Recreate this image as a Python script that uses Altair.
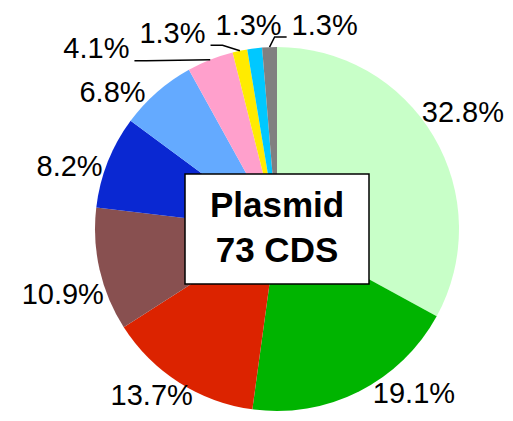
import math
import altair as alt
import pandas as pd

# ---------------- data ----------------
categories = ["Group 1", "Group 2", "Group 3", "Group 4", "Group 5",
              "Group 6", "Group 7", "Group 8", "Group 9", "Group 10"]
shares = [32.8, 19.1, 13.7, 10.9, 8.2, 6.8, 4.1, 1.3, 1.3, 1.3]
colors = ["#C8FFC8", "#00B400", "#DC2300", "#885050", "#0A28D2",
          "#64AAFF", "#FFA0CC", "#FFEB00", "#00C8FF", "#808080"]
title_lines = ["Plasmid", "73 CDS"]

# ---------------- layout / style ----------------
W, H = 497, 405          # plot area (page minus margins)
CX, CY = 269, 221        # pie centre inside the plot area
R = 182                  # pie radius
FS = 29                  # label font size
GAP = 10                 # min horizontal gap between crowded labels
CROWD_PAD = 16           # crowded labels sit this far outside the pie
MOVE_LIMIT = 30          # labels moved further than this get a leader line
ROT = math.radians(-5)   # label anchor rotation (Excel-like placement)
BOX_HW, BOX_HH = 92, 55  # half size of the centre title box
TITLE_FS, TITLE_LH = 35, 45
FONT = "Liberation Sans"

EM = {d: 0.556 for d in "0123456789"}
EM.update({".": 0.278, "%": 0.889})


def text_w(s):
    return FS * sum(EM.get(ch, 0.556) for ch in s)


TH = 0.716 * FS  # digit height

labels = [f"{v:.1f}%" for v in shares]
total = sum(shares)


def anchor(a, w):
    s, c = math.sin(a), -math.cos(a)
    return (R * s + math.copysign(w / 2, s), R * c + math.copysign(TH / 2, c))


items = []
cum = 0.0
for i, (v, lab) in enumerate(zip(shares, labels)):
    a = 2 * math.pi * (cum + v / 2) / total
    cum += v
    w = text_w(lab)
    bx, by = anchor(a + ROT, w)
    bx0, by0 = anchor(a, w)
    items.append(dict(i=i, text=lab, px=R * math.sin(a), py=-R * math.cos(a), w=w,
                      bx=bx, by=by, bx0=bx0, by0=by0, x=bx, y=by, crowd=False))


def overlaps(p, q):
    return (abs(p["x"] - q["x"]) < (p["w"] + q["w"]) / 2 + GAP
            and abs(p["y"] - q["y"]) < TH + 4)


def crowd_y(t):
    lo, hi = t["x"] - t["w"] / 2, t["x"] + t["w"] / 2
    xc = 0.0 if lo <= 0 <= hi else min(abs(lo), abs(hi))
    ro = R + CROWD_PAD
    if xc >= ro:
        return t["by0"]
    yc = -math.sqrt(ro ** 2 - xc ** 2) - TH / 2
    return min(t["by0"], yc) if t["by0"] < 0 else t["by0"]


def layout(cl):
    cl_sorted = sorted(cl, key=lambda t: t["bx0"])
    span = sum(t["w"] for t in cl_sorted) + GAP * (len(cl_sorted) - 1)
    mean = sum(t["bx0"] for t in cl_sorted) / len(cl_sorted)
    left = mean - span / 2
    for t in cl_sorted:
        t["crowd"] = True
        t["x"] = left + t["w"] / 2
        t["y"] = crowd_y(t)
        left += t["w"] + GAP


clusters = [[t] for t in items]
merged = True
while merged:
    merged = False
    for j in range(len(clusters) - 1):
        A, B = clusters[j], clusters[j + 1]
        if any(overlaps(p, q) for p in A for q in B):
            clusters[j] = A + B
            del clusters[j + 1]
            layout(clusters[j])
            merged = True
            break

# keep labels inside the drawing area
for t in items:
    t["x"] = max(-CX + t["w"] / 2 + 1, min(W - CX - t["w"] / 2 - 1, t["x"]))
    t["y"] = max(-CY + FS / 2 + 3, min(H - CY - FS / 2 - 3, t["y"]))

label_df = pd.DataFrame([{"text": t["text"], "x": t["x"], "y": t["y"]} for t in items])

leader_rows = []
for t in items:
    ref_x = t["bx0"] if t["crowd"] else t["bx"]
    if abs(t["x"] - ref_x) > MOVE_LIMIT:
        side = 1 if t["x"] < t["px"] else -1
        lx = t["x"] + side * (t["w"] / 2 + 5)
        ly = t["y"] + TH / 2 + 1
        ex = lx + side * 12
        for k, (xx, yy) in enumerate([(lx, ly), (ex, ly), (t["px"], t["py"])]):
            leader_rows.append({"id": t["i"], "k": k, "x": xx, "y": yy})
leader_df = pd.DataFrame(leader_rows, columns=["id", "k", "x", "y"])

pie_df = pd.DataFrame({"cat": categories, "value": shares,
                       "idx": list(range(len(shares))),
                       "cx": [0] * len(shares), "cy": [0] * len(shares)})

box_df = pd.DataFrame({"x": [-BOX_HW], "x2": [BOX_HW], "y": [-BOX_HH], "y2": [BOX_HH]})
n_lines = len(title_lines)
title_df = pd.DataFrame({"t": title_lines,
                         "x": [0] * n_lines,
                         "y": [(k - (n_lines - 1) / 2) * TITLE_LH - 1 for k in range(n_lines)]})

xs = alt.Scale(domain=[-CX, W - CX], range=[0, W], nice=False, zero=False)
ys = alt.Scale(domain=[-CY, H - CY], range=[0, H], nice=False, zero=False)

arcs = alt.Chart(pie_df).mark_arc(outerRadius=R).encode(
    x=alt.X("cx:Q", scale=xs, axis=None),
    y=alt.Y("cy:Q", scale=ys, axis=None),
    theta=alt.Theta("value:Q", stack=True),
    color=alt.Color("cat:N", scale=alt.Scale(domain=categories, range=colors), legend=None),
    order=alt.Order("idx:Q"),
)

leaders = alt.Chart(leader_df).mark_line(color="#000000", strokeWidth=1.5).encode(
    x=alt.X("x:Q", scale=xs, axis=None),
    y=alt.Y("y:Q", scale=ys, axis=None),
    detail="id:N",
    order="k:Q",
)

texts = alt.Chart(label_df).mark_text(font=FONT, fontSize=FS, color="#000000",
                                      align="center", baseline="middle").encode(
    x=alt.X("x:Q", scale=xs, axis=None),
    y=alt.Y("y:Q", scale=ys, axis=None),
    text="text:N",
)

box = alt.Chart(box_df).mark_rect(fill="#FFFFFF", stroke="#000000", strokeWidth=1.5).encode(
    x=alt.X("x:Q", scale=xs, axis=None), x2="x2:Q",
    y=alt.Y("y:Q", scale=ys, axis=None), y2="y2:Q",
)

title = alt.Chart(title_df).mark_text(font=FONT, fontSize=TITLE_FS, fontWeight="bold",
                                      color="#000000", align="center",
                                      baseline="middle").encode(
    x=alt.X("x:Q", scale=xs, axis=None),
    y=alt.Y("y:Q", scale=ys, axis=None),
    text="t:N",
)

chart = alt.layer(arcs, leaders, texts, box, title).properties(
    width=W, height=H, padding=0,
    autosize=alt.AutoSizeParams(type="none"),
).configure_view(stroke=None)

chart.save("out.html", embed_options={"renderer": "svg", "actions": False})
